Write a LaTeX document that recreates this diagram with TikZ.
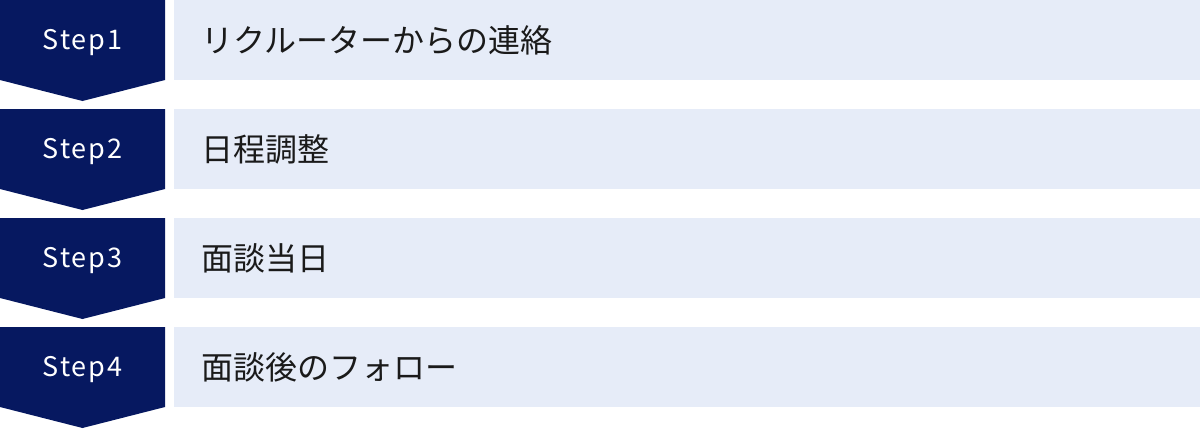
\documentclass[tikz,border=0pt]{standalone}
\usepackage{fontspec}
\newfontfamily\jpfont{Noto Sans CJK JP}
\newfontfamily\stepfont[LetterSpace=7]{Noto Sans CJK JP}
\definecolor{navy}{HTML}{061860}
\definecolor{barbg}{HTML}{E6ECF8}
\definecolor{txt}{HTML}{1A1A1A}
\begin{document}
\begin{tikzpicture}[x=1pt,y=-1pt,
  stepshape/.style={fill=navy,draw=none},
  barshape/.style={fill=barbg,draw=none},
  steplabel/.style={text=white,inner sep=0pt,anchor=base,font=\stepfont\fontsize{27}{27}\selectfont},
  barlabel/.style={text=txt,inner sep=0pt,anchor=base west,font=\jpfont\fontsize{32}{32}\selectfont}]
\useasboundingbox (0,0) rectangle (1200,429);
\foreach \i/\lab/\txt in {0/1/リクルーターからの連絡,1/2/日程調整,2/3/面談当日,3/4/面談後のフォロー}{
  \pgfmathsetmacro{\t}{109*\i}
  \fill[stepshape] (0,\t) -- (165,\t) -- (165,\t+80) -- (82.5,\t+101) -- (0,\t+80) -- cycle;
  \fill[barshape] (174,\t) rectangle (1200,\t+80);
  \node[steplabel] (s\lab) at (82.5,\t+49.5) {Step\lab};
  \node[barlabel] (b\lab) at (201,\t+52.2) {\txt};
}
\end{tikzpicture}
\end{document}
